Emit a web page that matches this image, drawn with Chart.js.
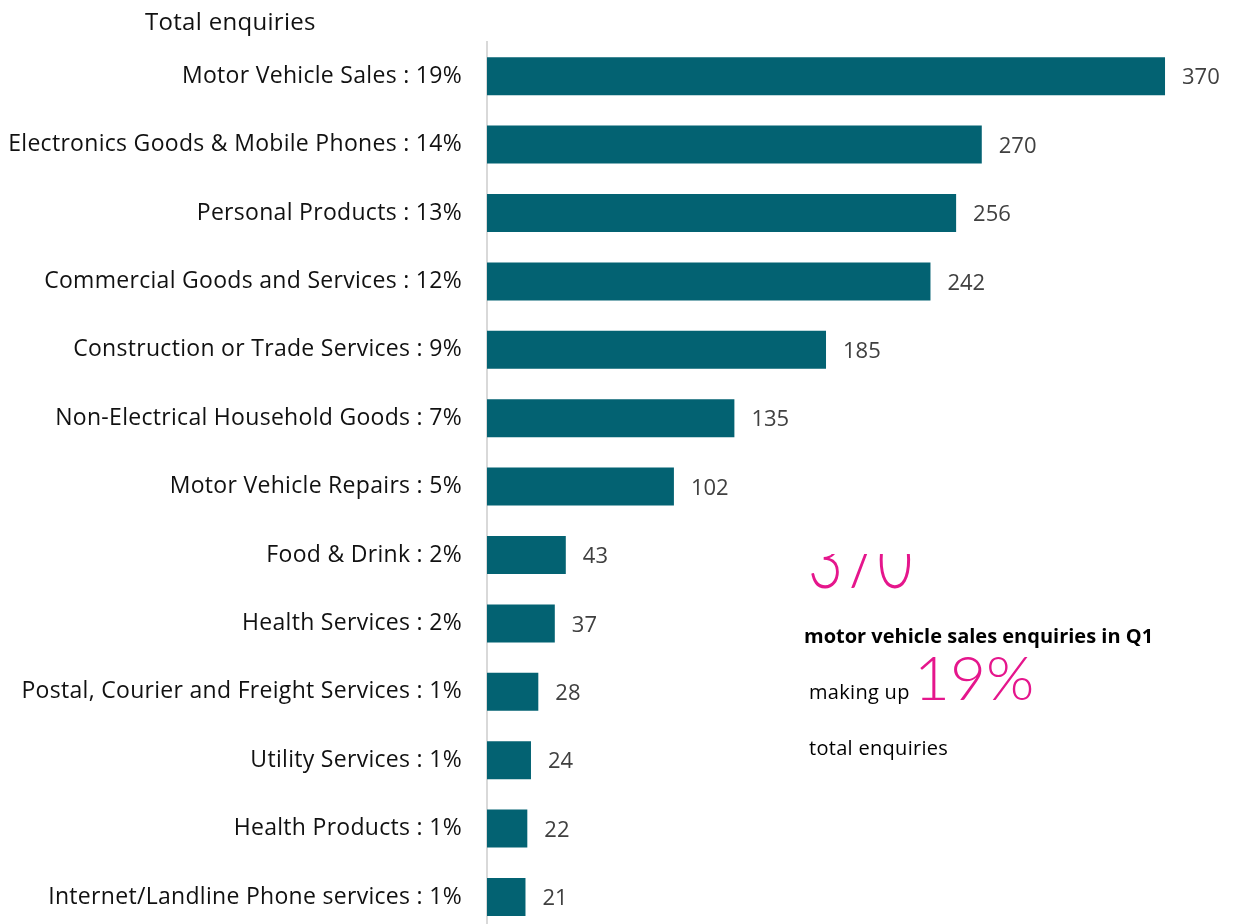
<!DOCTYPE html>
<html lang="en">
<head>
    <meta charset="UTF-8">
    <title>Total enquiries</title>
    <script src="https://cdn.jsdelivr.net/npm/chart.js"></script>
    <style>
        html, body { margin: 0; padding: 0; background: #fff; overflow: hidden; }
        canvas { display: block; }
    </style>
</head>
<body>
    <canvas id="enquiriesChart" width="1235" height="970"></canvas>

    <script>
        // Enquiry categories and their counts
        const categories = [
            'Motor Vehicle Sales : 19%',
            'Electronics Goods & Mobile Phones : 14%',
            'Personal Products : 13%',
            'Commercial Goods and Services : 12%',
            'Construction or Trade Services : 9%',
            'Non-Electrical Household Goods : 7%',
            'Motor Vehicle Repairs : 5%',
            'Food & Drink : 2%',
            'Health Services : 2%',
            'Postal, Courier and Freight Services : 1%',
            'Utility Services : 1%',
            'Health Products : 1%',
            'Internet/Landline Phone services : 1%'
        ];
        const enquiries = [370, 270, 256, 242, 185, 135, 102, 43, 37, 28, 24, 22, 21];

        // Callout text
        const calloutValue = '370';
        const calloutLine = 'motor vehicle sales enquiries in Q1';
        const calloutShare = '19%';

        const FONT = '"Open Sans", Lato, sans-serif';
        const THIN = 'Lato, "Open Sans", sans-serif';
        const PINK = '#e5168c';

        // slightly looser tracking for the category labels
        const tracking = {
            id: 'tracking',
            beforeDraw(chart) { chart.ctx.letterSpacing = '0.3px'; },
            beforeDatasetsDraw(chart) { chart.ctx.letterSpacing = '0px'; }
        };

        // Number at the end of each bar
        const valueLabels = {
            id: 'valueLabels',
            afterDatasetsDraw(chart) {
                const ctx = chart.ctx;
                const meta = chart.getDatasetMeta(0);
                ctx.save();
                ctx.font = '22px ' + FONT;
                ctx.fillStyle = '#404040';
                ctx.textBaseline = 'middle';
                ctx.textAlign = 'left';
                meta.data.forEach((bar, i) => {
                    ctx.fillText(String(enquiries[i]), bar.x + 17, bar.y + 2);
                });
                ctx.restore();
            }
        };

        // Heading and the highlighted callout on the right
        const annotations = {
            id: 'annotations',
            afterDraw(chart) {
                const ctx = chart.ctx;
                ctx.save();
                ctx.fillStyle = '#111';
                ctx.textBaseline = 'middle';
                ctx.textAlign = 'left';
                ctx.letterSpacing = '0.3px';
                ctx.font = '24px ' + FONT;
                ctx.fillText('Total enquiries', 145, 23);

                // big number, its upper part hidden by the box above it
                ctx.save();
                ctx.beginPath();
                ctx.rect(780, 554, 300, 60);
                ctx.clip();
                ctx.translate(808, 588);
                ctx.scale(0.75, 1);
                ctx.letterSpacing = '0px';
                ctx.fillStyle = PINK;
                ctx.font = '300 80px ' + THIN;
                ctx.textBaseline = 'alphabetic';
                ctx.fillText(calloutValue, 0, 0);
                ctx.restore();

                ctx.fillStyle = '#000';
                ctx.letterSpacing = '0px';
                ctx.font = 'bold 20px ' + FONT;
                ctx.fillText(calloutLine, 804, 637);

                ctx.letterSpacing = '0.3px';
                ctx.font = '20px ' + FONT;
                ctx.fillText('making up', 809, 693);
                ctx.fillText('total enquiries', 809, 749);

                ctx.letterSpacing = '0px';
                ctx.fillStyle = PINK;
                ctx.font = '300 62px ' + THIN;
                ctx.textBaseline = 'alphabetic';
                ctx.fillText(calloutShare, 914, 700);
                ctx.restore();
            }
        };

        const ctx = document.getElementById('enquiriesChart').getContext('2d');
        new Chart(ctx, {
            type: 'bar',
            data: {
                labels: categories,
                datasets: [{
                    data: enquiries,
                    backgroundColor: '#036272',
                    borderWidth: 0,
                    categoryPercentage: 1,
                    barPercentage: 0.556
                }]
            },
            options: {
                indexAxis: 'y',
                responsive: false,
                animation: false,
                devicePixelRatio: 1,
                layout: { padding: { top: 42, right: 15, bottom: 5, left: 0 } },
                plugins: {
                    legend: { display: false },
                    tooltip: { enabled: false }
                },
                scales: {
                    x: {
                        display: false,
                        min: 0,
                        max: 400
                    },
                    y: {
                        afterFit(scale) { scale.width = 487; },
                        grid: { display: false, drawTicks: false },
                        border: { display: true, color: '#d9d9d9', width: 2 },
                        ticks: {
                            padding: 25,
                            color: '#111',
                            font: { family: FONT, size: 23 }
                        }
                    }
                }
            },
            plugins: [tracking, valueLabels, annotations]
        });
    </script>
</body>
</html>
